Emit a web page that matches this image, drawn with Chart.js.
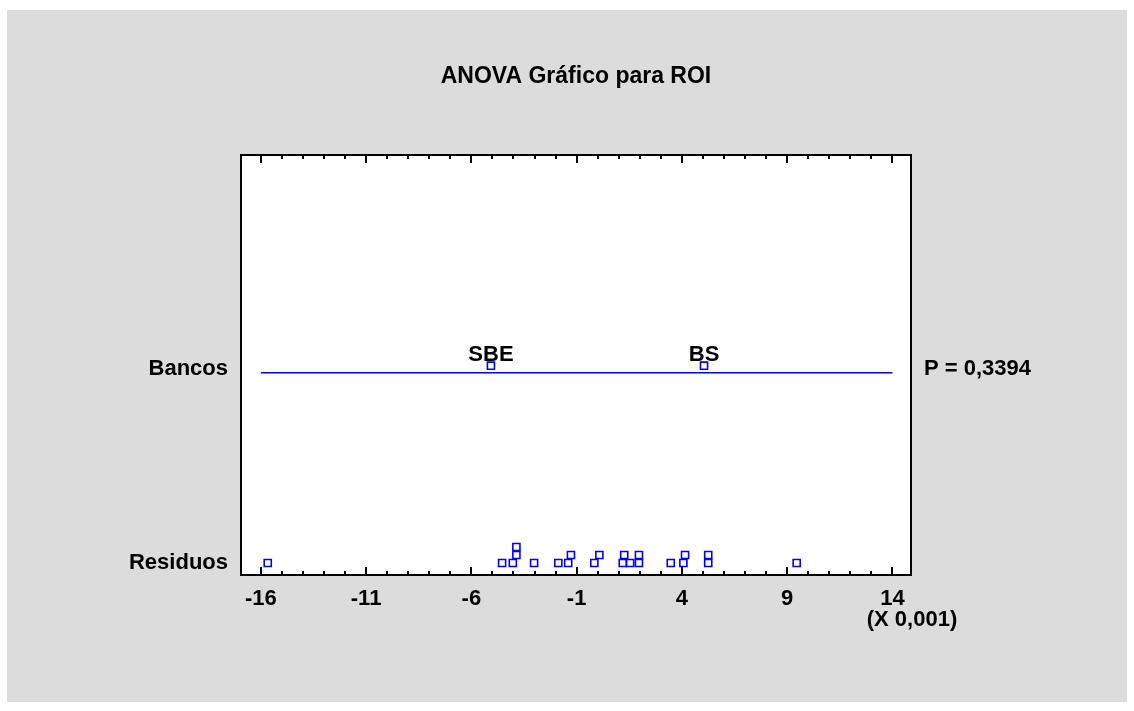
<!DOCTYPE html>
<html lang="es">
<head>
  <meta charset="UTF-8" />
  <title>ANOVA Gráfico para ROI</title>
  <script src="https://cdn.jsdelivr.net/npm/chart.js"></script>
  <style>
    body  { margin:0; background:#fff; }
    .box  { position:absolute; left:7px; top:10px; width:1120px; height:692px; background:#dcdcdc; }
  </style>
</head>
<body>
<div class="box"><canvas id="anova" width="1120" height="692"></canvas></div>

<script>
  /* ---------- data (x in units of 0,001) ---------- */
  const xTicks        = [-16, -11, -6, -1, 4, 9, 14];
  const xUnitNote     = '(X 0,001)';
  const rowLabels     = ['Residuos', 'Bancos'];
  const pValueLabel   = 'P = 0,3394';
  const groupNames    = ['SBE', 'BS'];
  const groupMeans    = [-5.07, 5.05];
  const residuals     = [-15.67, -4.54, -4.03, -3.86, -3.86, -3.02, -1.87, -1.40, -1.27, -0.16, 0.08,
                          1.19, 1.26, 1.54, 1.96, 1.96, 3.47, 4.07, 4.15, 5.25, 5.25, 9.45];
  const residualStack = [0, 0, 0, 1, 2, 0, 0, 0, 1, 0, 1,
                          0, 1, 0, 0, 1, 0, 0, 1, 0, 1, 0];

  /* ---------- helpers ---------- */
  const BLUE = '#0000ff';
  const FAMILY = "'Liberation Sans', Arial, sans-serif";
  const FONT = { family:FAMILY, size:22, weight:'bold' };
  const STACK_STEP = 0.042, MEAN_LIFT = 0.037;

  const residualPts = residuals.map((v,i) => ({ x:v, y:residualStack[i]*STACK_STEP }));
  const meanPts     = groupMeans.map(v => ({ x:v, y:1 + MEAN_LIFT }));
  const linePts     = [{ x:xTicks[0], y:1 }, { x:xTicks[xTicks.length-1], y:1 }];

  const frame = {
    id:'frame',
    beforeDatasetsDraw(chart) {
      const { ctx, chartArea:a } = chart;
      ctx.save();
      ctx.fillStyle = '#fff';
      ctx.fillRect(a.left, a.top, a.right - a.left, a.bottom - a.top);
      ctx.restore();
    },
    afterDatasetsDraw(chart) {
      const { ctx, chartArea:a, scales:{ x } } = chart;
      ctx.save();
      ctx.strokeStyle = '#000';
      ctx.lineWidth = 2;
      ctx.strokeRect(a.left, a.top, a.right - a.left, a.bottom - a.top);

      // inward ticks, major + minor, top and bottom
      for (let v = xTicks[0]; v <= xTicks[xTicks.length-1]; v++) {
        const px = Math.round(x.getPixelForValue(v));
        const len = xTicks.includes(v) ? 8 : 4;
        ctx.beginPath();
        ctx.moveTo(px, a.bottom); ctx.lineTo(px, a.bottom - len);
        ctx.moveTo(px, a.top);    ctx.lineTo(px, a.top + len);
        ctx.stroke();
      }

      // group names above the means
      ctx.fillStyle = '#000';
      ctx.font = `${FONT.weight} ${FONT.size}px ${FONT.family}`;
      ctx.textAlign = 'center';
      ctx.textBaseline = 'alphabetic';
      chart.getDatasetMeta(1).data.forEach((p,i) => ctx.fillText(groupNames[i], p.x, p.y - 4.5));

      // scale note under the last tick
      ctx.fillText(xUnitNote, a.right + 1, a.bottom + 51);
      ctx.restore();
    }
  };

  new Chart(document.getElementById('anova'), {
    type:'scatter',
    data:{
      datasets:[
        { label:'Residuos', data:residualPts, pointStyle:'rect', pointRadius:5,
          borderColor:BLUE, backgroundColor:'transparent', borderWidth:1.6 },
        { label:'Bancos', data:meanPts, pointStyle:'rect', pointRadius:5,
          borderColor:BLUE, backgroundColor:'transparent', borderWidth:1.6 },
        { type:'line', label:'linea', data:linePts, borderColor:BLUE, borderWidth:1.5,
          pointRadius:0, fill:false }
      ]
    },
    options:{
      responsive:false, animation:false,
      layout:{ padding:0 },
      plugins:{
        legend:{ display:false }, tooltip:{ enabled:false },
        title:{ display:true, text:'ANOVA Gráfico para ROI', color:'#000',
                font:{ family:FAMILY, size:23, weight:'bold' },
                fullSize:false, padding:{ top:53, bottom:64.4 } }
      },
      scales:{
        x:{
          type:'linear', position:'bottom', min:-16.94, max:14.88,
          afterBuildTicks: s => { s.ticks = xTicks.map(v => ({ value:v })); },
          afterFit: s => { s.height = 127; },
          grid:{ display:false, drawTicks:false }, border:{ display:false },
          ticks:{ color:'#000', font:FONT, padding:11, autoSkip:false, maxRotation:0 }
        },
        y:{
          type:'linear', position:'left', min:-0.063, max:2.144,
          afterBuildTicks: s => { s.ticks = [{ value:0 }, { value:1.018 }]; },
          afterFit: s => { s.width = 234; },
          grid:{ display:false, drawTicks:false }, border:{ display:false },
          ticks:{ color:'#000', font:FONT, padding:13, callback:(v,i) => rowLabels[i] }
        },
        y2:{
          type:'linear', position:'right', min:-0.063, max:2.144,
          afterBuildTicks: s => { s.ticks = [{ value:1.018 }]; },
          afterFit: s => { s.width = 216; },
          grid:{ display:false, drawTicks:false }, border:{ display:false },
          ticks:{ color:'#000', font:FONT, padding:13, callback:() => pValueLabel }
        }
      }
    },
    plugins:[frame]
  });
</script>
</body>
</html>
